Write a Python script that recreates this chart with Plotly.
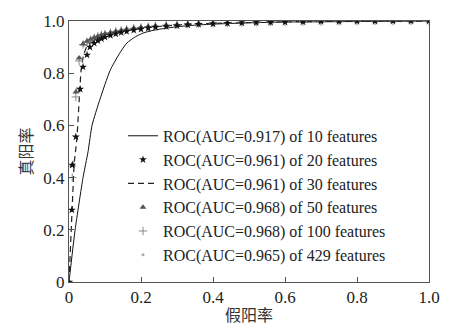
import plotly.graph_objects as go

# ROC curve data
fpr_10 = [0, 0.017, 0.039, 0.053, 0.064, 0.086, 0.114, 0.14, 0.161, 0.185, 0.206, 0.23, 0.253, 0.3, 0.35, 0.4, 0.5, 0.6, 0.7, 0.8, 0.9, 1.0]
tpr_10 = [0, 0.2, 0.4, 0.5, 0.6, 0.7, 0.81, 0.875, 0.916, 0.94, 0.954, 0.963, 0.969, 0.978, 0.984, 0.988, 0.993, 0.996, 0.997, 0.998, 0.999, 1.0]

fpr_20 = [0, 0.008, 0.009, 0.019, 0.031, 0.039, 0.05, 0.058, 0.07, 0.08, 0.09, 0.10, 0.115, 0.13, 0.145, 0.16, 0.18, 0.20, 0.22, 0.24, 0.27, 0.30, 0.33, 0.36, 0.40, 0.44, 0.48, 0.52, 0.56, 0.60, 0.65, 0.70, 0.75, 0.80, 0.85, 0.90, 0.95, 1.0]
tpr_20 = [0, 0.276, 0.448, 0.556, 0.739, 0.824, 0.870, 0.900, 0.915, 0.925, 0.932, 0.938, 0.945, 0.951, 0.956, 0.960, 0.965, 0.969, 0.973, 0.976, 0.979, 0.982, 0.985, 0.987, 0.989, 0.991, 0.993, 0.994, 0.995, 0.996, 0.997, 0.998, 0.998, 0.999, 0.999, 1.0, 1.0, 1.0]

fpr_30 = [0, 0.008, 0.014, 0.022, 0.028, 0.033, 0.04, 0.05, 0.07, 0.10, 0.13, 0.16, 0.20, 0.25, 0.30, 0.40, 0.50, 0.60, 0.70, 0.80, 0.90, 1.0]
tpr_30 = [0, 0.25, 0.45, 0.55, 0.70, 0.805, 0.87, 0.905, 0.925, 0.94, 0.952, 0.962, 0.971, 0.979, 0.985, 0.991, 0.995, 0.997, 0.998, 0.999, 1.0, 1.0]

fpr_50 = [0, 0.010, 0.019, 0.028, 0.039, 0.05, 0.06, 0.07, 0.08, 0.09, 0.10, 0.115, 0.13, 0.145, 0.16, 0.18, 0.20, 0.22, 0.24, 0.27, 0.30, 0.33, 0.36, 0.40, 0.44, 0.48, 0.52, 0.56, 0.60, 0.65, 0.70, 0.75, 0.80, 0.85, 0.90, 0.95, 1.0]
tpr_50 = [0, 0.448, 0.728, 0.858, 0.912, 0.922, 0.930, 0.937, 0.942, 0.947, 0.951, 0.956, 0.961, 0.965, 0.969, 0.973, 0.976, 0.979, 0.982, 0.985, 0.987, 0.989, 0.991, 0.993, 0.994, 0.995, 0.996, 0.997, 0.998, 0.998, 0.999, 0.999, 1.0, 1.0, 1.0, 1.0, 1.0]

fpr_100 = [0, 0.009, 0.019, 0.028, 0.039, 0.05, 0.06, 0.07, 0.08, 0.09, 0.10, 0.115, 0.13, 0.145, 0.16, 0.18, 0.20, 0.22, 0.24, 0.27, 0.30, 0.33, 0.36, 0.40, 0.44, 0.48, 0.52, 0.56, 0.60, 0.65, 0.70, 0.75, 0.80, 0.85, 0.90, 0.95, 1.0]
tpr_100 = [0, 0.40, 0.709, 0.847, 0.910, 0.920, 0.928, 0.935, 0.941, 0.946, 0.950, 0.955, 0.960, 0.964, 0.968, 0.972, 0.975, 0.978, 0.981, 0.984, 0.986, 0.988, 0.990, 0.992, 0.993, 0.994, 0.995, 0.996, 0.997, 0.998, 0.998, 0.999, 0.999, 1.0, 1.0, 1.0, 1.0]

fpr_429 = [0, 0.012, 0.022, 0.03, 0.041, 0.052, 0.062, 0.072, 0.082, 0.092, 0.102, 0.117, 0.132, 0.147, 0.162, 0.182, 0.202, 0.222, 0.242, 0.272, 0.302, 0.332, 0.362, 0.402, 0.442, 0.482, 0.522, 0.562, 0.602, 0.652, 0.702, 0.752, 0.802, 0.852, 0.902, 0.952, 1.0]
tpr_429 = [0, 0.46, 0.74, 0.86, 0.908, 0.918, 0.926, 0.933, 0.939, 0.944, 0.948, 0.953, 0.958, 0.962, 0.966, 0.970, 0.974, 0.977, 0.980, 0.983, 0.985, 0.987, 0.989, 0.991, 0.992, 0.993, 0.995, 0.996, 0.997, 0.997, 0.998, 0.999, 0.999, 1.0, 1.0, 1.0, 1.0]

series_names = [
    "ROC(AUC=0.917) of 10 features",
    "ROC(AUC=0.961) of 20 features",
    "ROC(AUC=0.961) of 30 features",
    "ROC(AUC=0.968) of 50 features",
    "ROC(AUC=0.968) of 100 features",
    "ROC(AUC=0.965) of 429 features",
]

tick_vals = [0, 0.2, 0.4, 0.6, 0.8, 1.0]
tick_text = ["0", "0.2", "0.4", "0.6", "0.8", "1.0"]

x_title = "假阳率"
y_title = "真阳率"

fig = go.Figure()
fig.add_trace(go.Scatter(x=fpr_10, y=tpr_10, mode="lines", name=series_names[0],
                         line=dict(color="#111111", width=1, shape="spline", smoothing=0.6)))
fig.add_trace(go.Scatter(x=fpr_30, y=tpr_30, mode="lines", name=series_names[2],
                         line=dict(color="#222222", width=1.2, dash="6px,4px")))
fig.add_trace(go.Scatter(x=fpr_429, y=tpr_429, mode="markers", name=series_names[5],
                         marker=dict(symbol="circle", size=3, color="#aaaaaa")))
fig.add_trace(go.Scatter(x=fpr_100, y=tpr_100, mode="markers", name=series_names[4],
                         marker=dict(symbol="cross-thin", size=6, color="#888888",
                                     line=dict(color="#888888", width=1))))
fig.add_trace(go.Scatter(x=fpr_50, y=tpr_50, mode="markers", name=series_names[3],
                         marker=dict(symbol="triangle-up", size=6, color="#555555")))
fig.add_trace(go.Scatter(x=fpr_20, y=tpr_20, mode="markers", name=series_names[1],
                         marker=dict(symbol="star", size=6, color="#111111")))

# the page has an 8px body margin: shift everything up-left by 8px
fig.update_layout(
    width=450, height=318,
    margin=dict(l=61, r=29, t=13, b=44),
    paper_bgcolor="white", plot_bgcolor="white",
    font=dict(family="Liberation Serif", size=17, color="#222222"),
    legend=dict(x=0.15, y=0.625, xanchor="left", yanchor="top",
                bgcolor="rgba(0,0,0,0)", font=dict(size=16, family="Liberation Serif", color="#222222"),
                traceorder="normal", tracegroupgap=0, itemwidth=30),
    showlegend=True,
)

fig.update_xaxes(range=[0, 1.0], tickvals=tick_vals, ticktext=tick_text, automargin=False,
                 ticks="inside", ticklen=5, tickcolor="#555555",
                 showline=True, linecolor="#555555", linewidth=1, mirror=True,
                 showgrid=False, zeroline=False,
                 title=dict(text=x_title, font=dict(family="Noto Sans CJK SC", size=16, color="#333333"), standoff=6))
fig.update_yaxes(range=[0, 1.0], tickvals=tick_vals, ticktext=tick_text, automargin=False,
                 ticks="inside", ticklen=5, tickcolor="#555555",
                 showline=True, linecolor="#555555", linewidth=1, mirror=True,
                 showgrid=False, zeroline=False,
                 title=dict(text=y_title, font=dict(family="Noto Sans CJK SC", size=16, color="#333333"), standoff=6))

# legend order as in the reference
order = {name: i for i, name in enumerate(series_names)}
for t in fig.data:
    t.legendrank = order[t.name]

fig.write_html("out.html")
